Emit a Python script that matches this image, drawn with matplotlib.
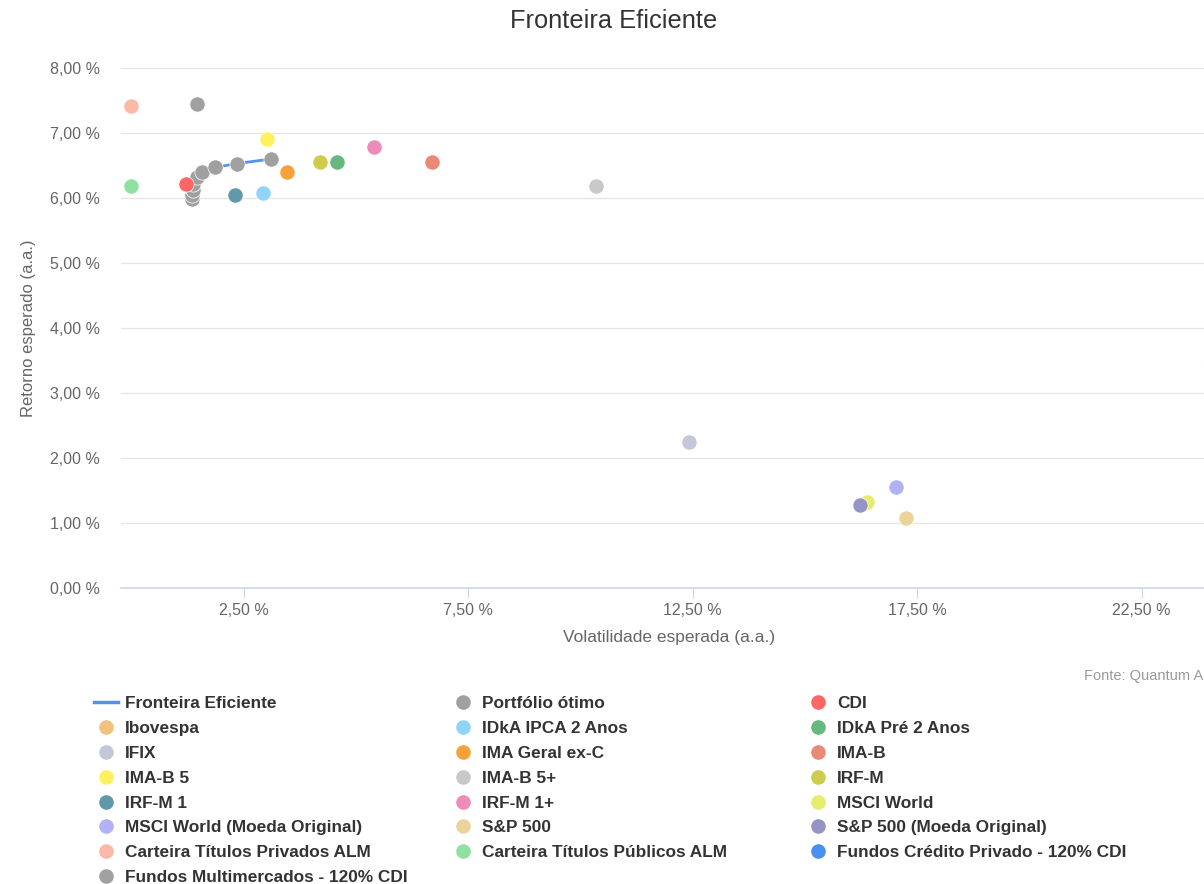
import matplotlib
matplotlib.use("Agg")
import matplotlib.pyplot as plt
from matplotlib.lines import Line2D

plt.rcParams['font.family'] = ['Liberation Sans', 'DejaVu Sans']

# efficient frontier (line) and optimal portfolios (grey points on it)
frontier_vol = [1.35, 1.36, 1.37, 1.38, 1.46, 1.58, 1.87, 2.35, 3.12]
frontier_ret = [5.98, 6.05, 6.12, 6.22, 6.32, 6.40, 6.47, 6.53, 6.60]

# single-point benchmarks: name, volatility (%), return (%), colour
names = ["CDI", "Ibovespa", "IDkA IPCA 2 Anos", "IDkA Pré 2 Anos", "IFIX",
         "IMA Geral ex-C", "IMA-B", "IMA-B 5", "IMA-B 5+", "IRF-M", "IRF-M 1",
         "IRF-M 1+", "MSCI World", "MSCI World (Moeda Original)", "S&P 500",
         "S&P 500 (Moeda Original)", "Carteira Títulos Privados ALM",
         "Carteira Títulos Públicos ALM", "Fundos Crédito Privado - 120% CDI",
         "Fundos Multimercados - 120% CDI"]
vols = [1.23, 24.05, 2.93, 4.59, 12.42,
        3.47, 6.70, 3.02, 10.34, 4.20, 2.31,
        5.41, 16.39, 17.03, 17.25,
        16.22, 0.0,
        0.0, 1.46,
        1.46]
rets = [6.21, 3.40, 6.08, 6.55, 2.25,
        6.40, 6.55, 6.91, 6.19, 6.55, 6.04,
        6.78, 1.33, 1.56, 1.08,
        1.28, 7.42,
        6.18, 7.45,
        7.45]
colors = ["#ff6666", "#f0c27d", "#90d5f9", "#66b87e", "#c4c7d8",
          "#f6a13a", "#e98a78", "#fdf25d", "#c8c8c8", "#cdcc4d", "#6199aa",
          "#ef8bb8", "#e5ed6c", "#b1b1f6", "#ebd49c",
          "#9595c5", "#fbb9a7",
          "#90e0a0", "#4d8ff0",
          "#a0a0a0"]

line_color = "#5591ec"
opt_color = "#a0a0a0"

fig = plt.figure(figsize=(12.04, 8.84), dpi=100)
W, H = 1204, 884
ax = fig.add_axes([121 / W, 296 / H, 1097 / W, 520 / H])

ax.plot(frontier_vol, frontier_ret, color=line_color, lw=2, zorder=3)
ax.scatter(frontier_vol, frontier_ret, s=120, color=opt_color, zorder=4,
           edgecolors='white', linewidths=0.5)
for i in range(len(names)):
    ax.scatter([vols[i]], [rets[i]], s=120, color=colors[i], zorder=5 + i,
               edgecolors='white', linewidths=0.5, clip_on=False)

ax.set_xlim(-0.228, 24.2)
ax.set_ylim(0, 8)
ax.set_xticks([2.5, 7.5, 12.5, 17.5, 22.5])
ax.set_xticklabels(["2,50 %", "7,50 %", "12,50 %", "17,50 %", "22,50 %"])
ax.set_yticks(range(0, 9))
ax.set_yticklabels(["%d,00 %%" % v for v in range(0, 9)])

ax.grid(axis='y', color='#e6e6e6', lw=1, zorder=0)
ax.set_axisbelow(True)
for s in ['top', 'right', 'left']:
    ax.spines[s].set_visible(False)
ax.spines['bottom'].set_color('#ccd6eb')
ax.spines['bottom'].set_linewidth(1.2)
ax.tick_params(axis='x', length=7, color='#ccd6eb', pad=3.5, labelsize=11.5, labelcolor='#666666')
ax.tick_params(axis='y', length=0, pad=15, labelsize=11.5, labelcolor='#666666')

ax.set_xlabel("Volatilidade esperada (a.a.)", fontsize=12.5, color='#666666', labelpad=9)
ax.set_ylabel("Retorno esperado (a.a.)", fontsize=12, color='#666666', labelpad=10)

fig.text(614 / W, 1 - 21 / H, "Fronteira Eficiente", ha='center', va='center',
         fontsize=18.3, color='#333333')
fig.text(1203 / W, 1 - 676 / H, "Fonte: Quantum A", ha='right', va='center',
         fontsize=10.5, color='#999999')

# legend, three columns filled row by row
handles = [Line2D([], [], color=line_color, lw=2.5),
           Line2D([], [], ls='none', marker='o', ms=9.5, color=opt_color)]
labels = ["Fronteira Eficiente", "Portfólio ótimo"]
for i in range(len(names)):
    handles.append(Line2D([], [], ls='none', marker='o', ms=9.5, color=colors[i]))
    labels.append(names[i])

col_x = [94, 451, 806]
for c in range(3):
    leg = fig.legend(handles[c::3], labels[c::3], loc='upper left',
                     bbox_to_anchor=(col_x[c] / W, 1 - 696 / H),
                     frameon=False, borderpad=0, borderaxespad=0,
                     handlelength=1.4, handletextpad=0.4, labelspacing=0.57,
                     prop={'weight': 'bold', 'size': 12.4})
    for t in leg.get_texts():
        t.set_color('#333333')

fig.savefig("out.png", dpi=100)
